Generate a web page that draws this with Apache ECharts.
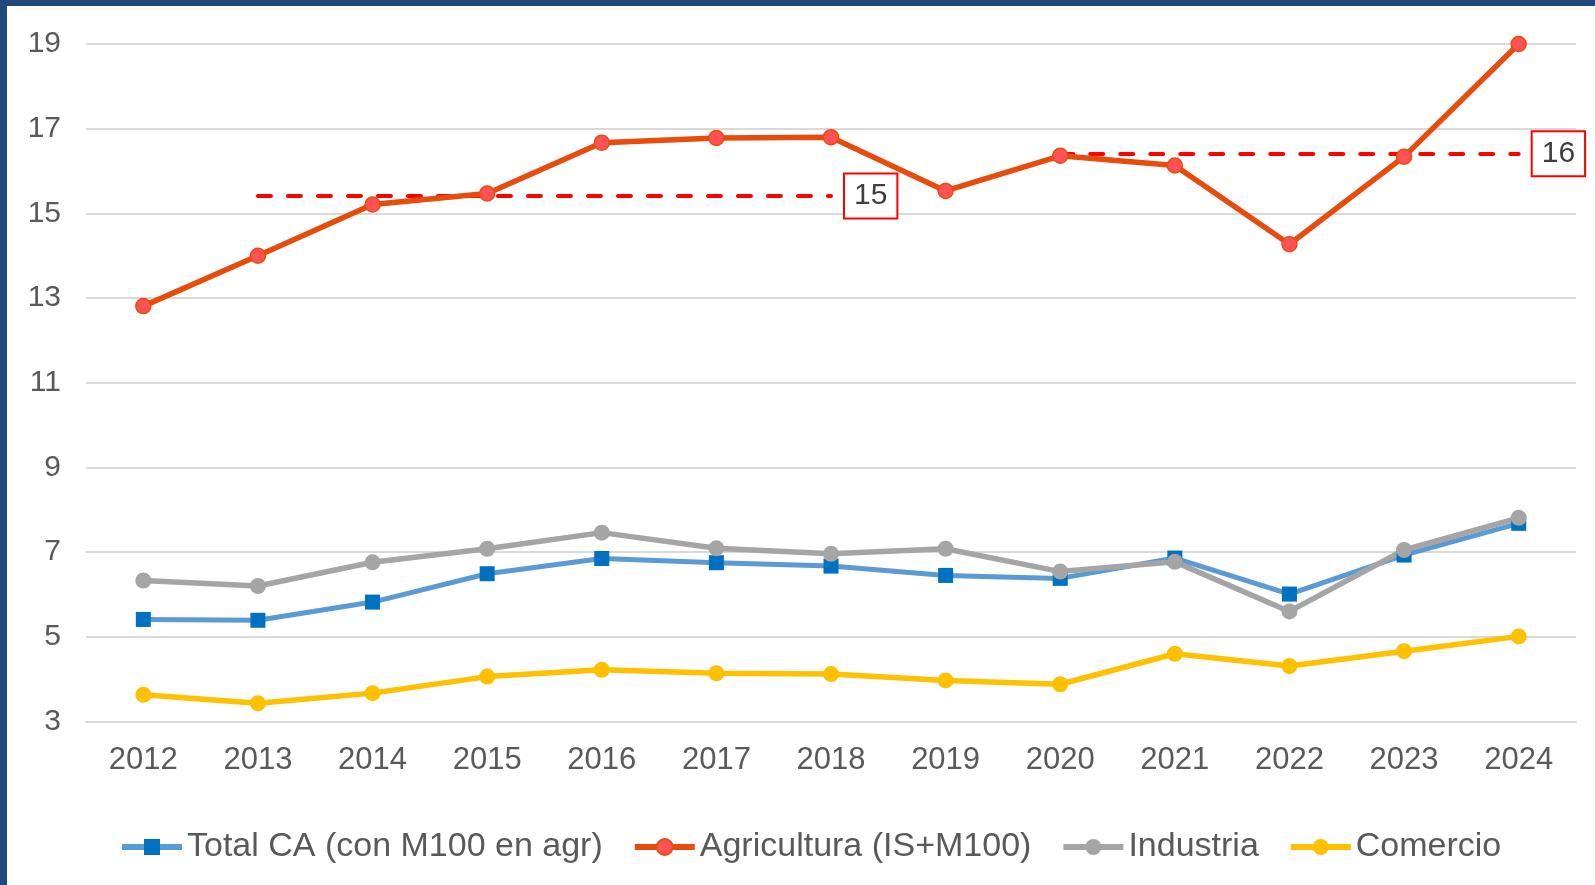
<!DOCTYPE html>
<html>
<head>
<meta charset="utf-8">
<script src="https://cdn.jsdelivr.net/npm/echarts@6/dist/echarts.min.js"></script>
<style>
html,body{margin:0;padding:0;background:#fff;}
#c{width:1595px;height:885px;}
</style>
</head>
<body>
<div id="c"></div>
<script>
const years = ['2012','2013','2014','2015','2016','2017','2018','2019','2020','2021','2022','2023','2024'];
const totalCA = [5.41,5.39,5.82,6.49,6.85,6.75,6.67,6.45,6.38,6.86,6.01,6.93,7.68];
const agricultura = [12.81,14.0,15.21,15.47,16.67,16.78,16.8,15.53,16.36,16.13,14.27,16.34,19.0];
const industria = [6.33,6.20,6.76,7.08,7.46,7.09,6.96,7.08,6.54,6.77,5.60,7.05,7.81];
const comercio = [3.63,3.43,3.67,4.06,4.22,4.14,4.12,3.97,3.88,4.60,4.31,4.66,5.01];
const seriesNames = ['Total CA (con M100 en agr)','Agricultura (IS+M100)','Industria','Comercio'];
const refLevel1 = {from:'2013', to:'2018', value:15.41, label:'15'};
const refLevel2 = {from:'2020', to:'2024', value:16.41, label:'16'};
const yTicks = {min:3, max:19, interval:2};

const FONT = "'Liberation Sans', Arial, sans-serif";
const chart = echarts.init(document.getElementById('c'), null, {renderer:'canvas'});

function refLine(r){
  return [
    {coord:[r.from, r.value], label:{formatter:r.label}},
    {coord:[r.to, r.value]}
  ];
}

chart.setOption({
  animation:false,
  backgroundColor:'#fff',
  graphic:[
    {type:'rect', left:0, top:0, shape:{width:1595, height:6}, style:{fill:'#1F497D'}, silent:true, z:100},
    {type:'rect', left:0, top:0, shape:{width:7, height:885}, style:{fill:'#1F497D'}, silent:true, z:100}
  ],
  grid:{left:86, right:19, top:44, bottom:163.5, containLabel:false},
  legend:{
    left:119, top:830, padding:0,
    itemWidth:60, itemHeight:20, itemGap:29,
    textStyle:{fontFamily:FONT, fontSize:34, color:'#595959'},
    lineStyle:{width:6},
    data:seriesNames
  },
  xAxis:{
    type:'category', data:years, boundaryGap:true,
    axisLine:{show:true, lineStyle:{color:'#D9D9D9', width:2}},
    axisTick:{show:false},
    axisLabel:{fontFamily:FONT, fontSize:31, color:'#595959', margin:23}
  },
  yAxis:{
    type:'value', min:yTicks.min, max:yTicks.max, interval:yTicks.interval,
    axisLine:{show:false}, axisTick:{show:false},
    splitLine:{lineStyle:{color:'#D9D9D9', width:2}},
    axisLabel:{fontFamily:FONT, fontSize:30, color:'#595959', margin:25}
  },
  series:[
    {
      name:seriesNames[0], type:'line', data:totalCA,
      symbol:'rect', symbolSize:15,
      lineStyle:{color:'#5B9BD5', width:5},
      itemStyle:{color:'#0070C0'}
    },
    {
      name:seriesNames[1], type:'line', data:agricultura,
      symbol:'circle', symbolSize:15,
      lineStyle:{color:'#E84C0C', width:5.5},
      itemStyle:{color:'#FF5252', borderColor:'#E84C0C', borderWidth:1.5},
      z:5,
      markLine:{
        silent:true, symbol:['none','none'],
        lineStyle:{color:'#FF0000', width:4, type:[13,17], cap:'round'},
        label:{
          show:true, position:'end', distance:14,
          fontFamily:FONT, fontSize:30, lineHeight:30, color:'#404040',
          backgroundColor:'#fff', borderColor:'#FF0000', borderWidth:2,
          padding:[7,9,6,9]
        },
        data:[refLine(refLevel1), refLine(refLevel2)]
      }
    },
    {
      name:seriesNames[2], type:'line', data:industria,
      symbol:'circle', symbolSize:16,
      lineStyle:{color:'#A5A5A5', width:5.5},
      itemStyle:{color:'#A5A5A5'}
    },
    {
      name:seriesNames[3], type:'line', data:comercio,
      symbol:'circle', symbolSize:16,
      lineStyle:{color:'#FFC000', width:5.5},
      itemStyle:{color:'#FFC000'}
    }
  ]
});
</script>
</body>
</html>
